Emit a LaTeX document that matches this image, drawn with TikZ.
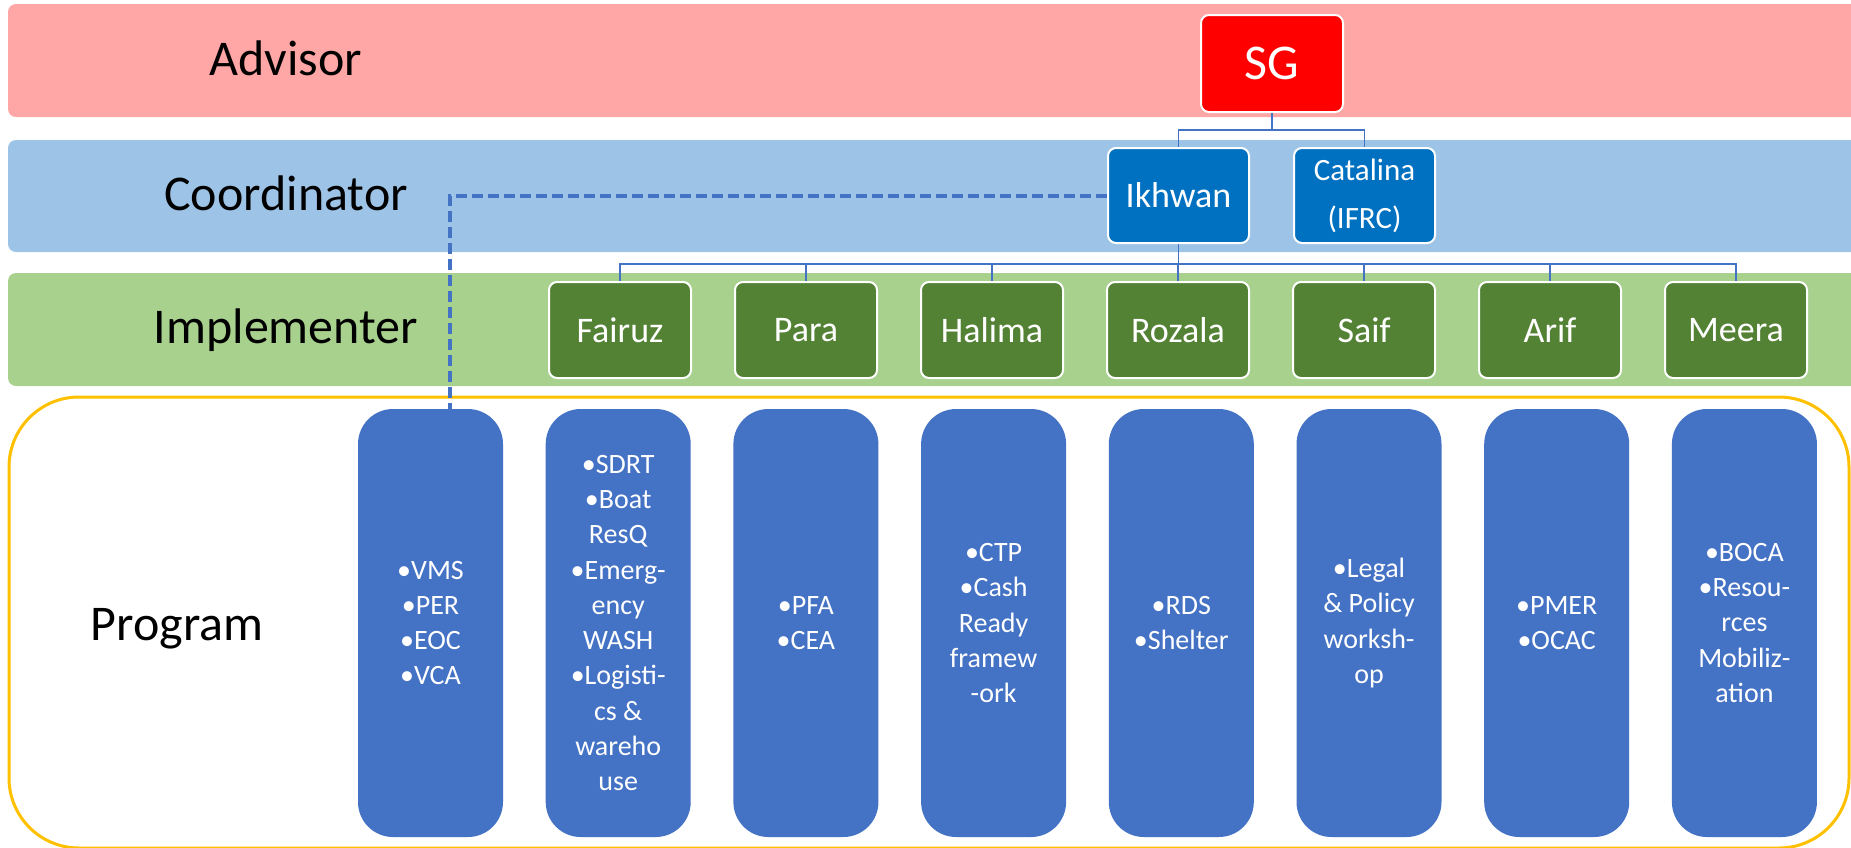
\documentclass[tikz,border=0pt]{standalone}
\usepackage{fontspec}
\setmainfont{Carlito}
\definecolor{advisorpink}{HTML}{FFA7A7}
\definecolor{coordband}{HTML}{9DC3E6}
\definecolor{implband}{HTML}{A9D18E}
\definecolor{sgred}{HTML}{FF0000}
\definecolor{coordblue}{HTML}{0070C0}
\definecolor{implgreen}{HTML}{548235}
\definecolor{progblue}{HTML}{4472C4}
\definecolor{progyellow}{HTML}{FFC000}
\begin{document}
\begin{tikzpicture}[x=1pt, y=-1pt,
  band/.style = {rounded corners=8pt},
  rowlabel/.style = {anchor=base, font=\fontsize{50}{60}\selectfont},
  person/.style = {draw=white, line width=2pt, rounded corners=8pt,
    text=white, align=center, inner sep=0pt,
    minimum width=142pt, minimum height=96pt},
  progbox/.style = {fill=progblue, rounded corners=35pt, text=white,
    align=center, inner sep=0pt, minimum width=145pt, minimum height=428pt,
    font=\fontsize{28}{35.3}\selectfont},
  link/.style = {draw=progblue, line width=1.5pt},
  dashlink/.style = {draw=progblue, line width=4pt, dash pattern=on 11pt off 5pt}]
  \useasboundingbox (0,0) rectangle (1851,847);
  \clip (0,0) rectangle (1851,847);
  % layers
  \fill[band, advisorpink] (8,4) rectangle (1900,117);
  \fill[band, coordband] (8,140) rectangle (1900,252);
  \fill[band, implband] (8,273) rectangle (1900,386);
  \draw[draw=progyellow, fill=white, line width=3pt, rounded corners=70pt]
    (9,397) rectangle (1849,848);
  \node[rowlabel] (advisor) at (286,75) {Advisor};
  \node[rowlabel] (coordinator) at (286,210) {Coordinator};
  \node[rowlabel] (implementer) at (286,343) {Implementer};
  \node[rowlabel] (program) at (177,640) {Program};
  % people
  \node[person, fill=sgred, font=\fontsize{50}{60}\selectfont, minimum height=97pt]
    (sg) at (1272,63.5) {SG};
  \node[person, fill=coordblue, font=\fontsize{36}{44}\selectfont,
    minimum width=141pt, minimum height=95pt] (ikhwan) at (1178.5,195.5) {Ikhwan};
  \node[person, fill=coordblue, font=\fontsize{31}{48}\selectfont,
    minimum width=141pt, minimum height=95pt] (catalina) at (1364.5,195.5) {Catalina\\(IFRC)};
  \foreach \name/\who [count=\i from 0] in {fairuz/Fairuz, para/Para, halima/Halima,
      rozala/Rozala, saif/Saif, arif/Arif, meera/Meera}
    \node[person, fill=implgreen, font=\fontsize{36}{44}\selectfont]
      (\name) at (620+186*\i,330) {\who};
  % programs
  \foreach \items [count=\i from 0] in {
      {•VMS\\•PER\\•EOC\\•VCA},
      {•SDRT\\•Boat\\ResQ\\•Emerg-\\ency\\WASH\\•Logisti-\\cs \&\\wareho\\use},
      {•PFA\\•CEA},
      {•CTP\\•Cash\\Ready\\framew\\-ork},
      {•RDS\\•Shelter},
      {•Legal\\\& Policy\\worksh-\\op},
      {•PMER\\•OCAC},
      {•BOCA\\•Resou-\\rces\\Mobiliz-\\ation}}
    \node[progbox] (prog\i) at (430.5+187.7*\i,623) {\items};
  % connectors
  \draw[link] (sg.south) -- ++(0,17) -| (ikhwan.north);
  \draw[link] (sg.south) -- ++(0,17) -| (catalina.north);
  \foreach \name in {fairuz, para, halima, rozala, saif, arif, meera}
    \draw[link] (ikhwan.south) -- ++(0,20) -| (\name.north);
  \draw[dashlink] (ikhwan.west) -| ([xshift=19.5pt]prog0.north);
\end{tikzpicture}
\end{document}
